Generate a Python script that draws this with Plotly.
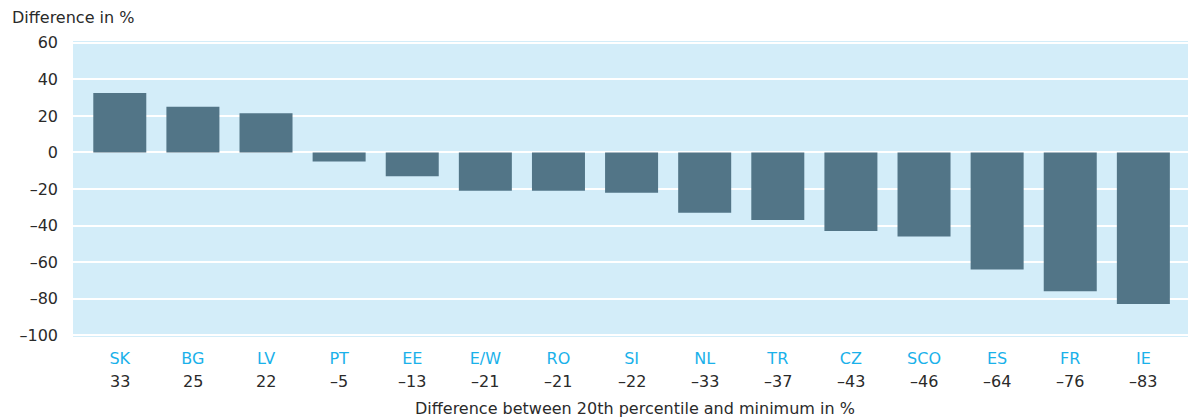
import plotly.graph_objects as go

countries = ["SK", "BG", "LV", "PT", "EE", "E/W", "RO", "SI", "NL", "TR", "CZ", "SCO", "ES", "FR", "IE"]
labels = ["33", "25", "22", "–5", "–13", "–21", "–21", "–22", "–33", "–37", "–43", "–46", "–64", "–76", "–83"]
diff = [32.5, 25, 21.5, -5, -13, -21, -21, -22, -33, -37, -43, -46, -64, -76, -83]
yticks = [-100, -80, -60, -40, -20, 0, 20, 40, 60]

BAR = "#527587"
BG = "#d3edf9"
CYAN = "#1ab1ea"
TXT = "#2a2a2a"
FONT = "DejaVu Sans"
FS = 16

fig = go.Figure()
fig.add_trace(go.Bar(x=countries, y=diff, marker_color=BAR, marker_line_width=0, width=0.725))

# numbers under the country codes
for c, lab in zip(countries, labels):
    fig.add_annotation(x=c, y=-0.152, xref="x", yref="paper", text=lab, showarrow=False,
                       font=dict(size=FS, color=TXT, family=FONT), yanchor="middle")

fig.add_annotation(x=-0.056, y=1.078, xref="paper", yref="paper", text="Difference in %",
                   showarrow=False, xanchor="left", yanchor="middle",
                   font=dict(size=FS, color=TXT, family=FONT))
fig.add_annotation(x=0.5, y=-0.24, xref="paper", yref="paper",
                   text="Difference between 20th percentile and minimum in %",
                   showarrow=False, yanchor="middle",
                   font=dict(size=FS, color=TXT, family=FONT))

# page body has an 8px margin, so the figure is 8px smaller each way
fig.update_layout(
    width=1188, height=410,
    margin=dict(l=65, r=0, t=33, b=81, autoexpand=False),
    plot_bgcolor=BG,
    paper_bgcolor="white",
    showlegend=False,
    bargap=0.275,
    font=dict(family=FONT, size=FS, color=TXT),
    xaxis=dict(range=[-0.64, 14.72], tickfont=dict(color=CYAN, size=FS),
               showgrid=False, ticks="", ticklabelstandoff=10, automargin=False),
    yaxis=dict(range=[-101, 61], tickvals=yticks,
               ticktext=[str(v).replace("-", "–") for v in yticks],
               gridcolor="white", gridwidth=2, zeroline=True, zerolinecolor="white",
               zerolinewidth=2, ticks="", ticklabelstandoff=14, automargin=False),
)

fig.write_html("out.html")
